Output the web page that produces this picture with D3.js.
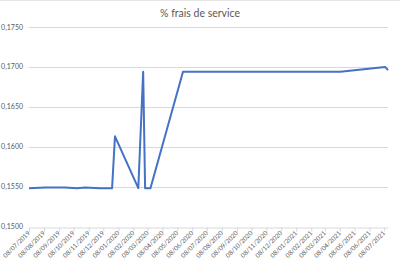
<!DOCTYPE html>
<html>
<head>
<meta charset="utf-8">
<script src="https://cdn.jsdelivr.net/npm/d3@7"></script>
<style>
  html, body { margin: 0; padding: 0; background: #fff; }
  svg { display: block; }
</style>
</head>
<body>
<svg id="chart" width="400" height="262"></svg>
<script>
const title = "% frais de service";
const dates = [
  "2019-07-08", "2019-08-10", "2019-09-20", "2019-10-15", "2019-11-01",
  "2019-12-01", "2019-12-26", "2020-01-01", "2020-02-18", "2020-02-28",
  "2020-03-03", "2020-03-14", "2020-05-20", "2020-09-01", "2021-01-01",
  "2021-04-09", "2021-07-10", "2021-07-16"
];
const values = [
  0.1548, 0.1549, 0.1549, 0.1548, 0.1549,
  0.1548, 0.1548, 0.1613, 0.1548, 0.1694,
  0.1548, 0.1548, 0.1694, 0.1694, 0.1694,
  0.1694, 0.1700, 0.1696
];
const yTicks = [0.150, 0.155, 0.160, 0.165, 0.170, 0.175];
const xTickDates = [
  "2019-07-08", "2019-08-08", "2019-09-08", "2019-10-08", "2019-11-08", "2019-12-08",
  "2020-01-08", "2020-02-08", "2020-03-08", "2020-04-08", "2020-05-08", "2020-06-08",
  "2020-07-08", "2020-08-08", "2020-09-08", "2020-10-08", "2020-11-08", "2020-12-08",
  "2021-01-08", "2021-02-08", "2021-03-08", "2021-04-08", "2021-05-08", "2021-06-08",
  "2021-07-08"
];

const parse = d3.utcParse("%Y-%m-%d");
const fmtDate = d3.utcFormat("%d/%m/%Y");
const fmtY = v => d3.format(".4f")(v).replace(".", ",");

const data = dates.map((d, i) => ({ date: parse(d), value: values[i] }));
const ticks = xTickDates.map(parse);

const svg = d3.select("#chart");
const mLeft = 29, mRight = 388, mTop = 27, mBottom = 226.5;

const x = d3.scaleUtc()
  .domain([parse("2019-07-08"), parse("2021-07-16")])
  .range([mLeft, mRight]);
const y = d3.scaleLinear().domain([0.150, 0.175]).range([mBottom, mTop]);

// faint spreadsheet border at top
svg.append("line").attr("x1", 0).attr("x2", 400).attr("y1", 0.5).attr("y2", 0.5)
  .attr("stroke", "#e6e6e6");

// title
svg.append("text")
  .attr("x", 200).attr("y", 17)
  .attr("text-anchor", "middle")
  .attr("font-family", "Lato, 'Open Sans', sans-serif")
  .attr("font-size", 10.5)
  .attr("fill", "#595959")
  .text(title);

// gridlines
svg.append("g").selectAll("line")
  .data(yTicks.filter(t => t > 0.150))
  .join("line")
  .attr("x1", mLeft).attr("x2", mRight)
  .attr("y1", d => Math.round(y(d)) + 0.5).attr("y2", d => Math.round(y(d)) + 0.5)
  .attr("stroke", "#d9d9d9").attr("stroke-width", 1);

// y labels
svg.append("g").selectAll("text")
  .data(yTicks)
  .join("text")
  .attr("x", 23).attr("y", d => y(d) + 2.5)
  .attr("text-anchor", "end")
  .attr("font-family", "Lato, 'Open Sans', sans-serif")
  .attr("font-size", 7)
  .attr("fill", "#595959")
  .text(fmtY);

// x axis
const xAxis = d3.axisBottom(x)
  .tickValues(ticks)
  .tickFormat(fmtDate)
  .tickSize(4)
  .tickSizeOuter(0);
const gx = svg.append("g")
  .attr("transform", `translate(0,${Math.round(mBottom) + 0.5})`)
  .call(xAxis);
gx.select(".domain").attr("stroke", "#d9d9d9");
gx.selectAll(".tick line").attr("stroke", "#d9d9d9");
gx.selectAll(".tick text")
  .attr("font-family", "Lato, 'Open Sans', sans-serif")
  .attr("font-size", 6.3)
  .attr("fill", "#595959")
  .attr("text-anchor", "end")
  .attr("dy", null)
  .attr("y", 0)
  .attr("transform", "translate(1,6) rotate(-45)");

// line
const line = d3.line().x(d => x(d.date)).y(d => y(d.value));
svg.append("path")
  .datum(data)
  .attr("d", line)
  .attr("fill", "none")
  .attr("stroke", "#4472C4")
  .attr("stroke-width", 2)
  .attr("stroke-linejoin", "round");
</script>
</body>
</html>
